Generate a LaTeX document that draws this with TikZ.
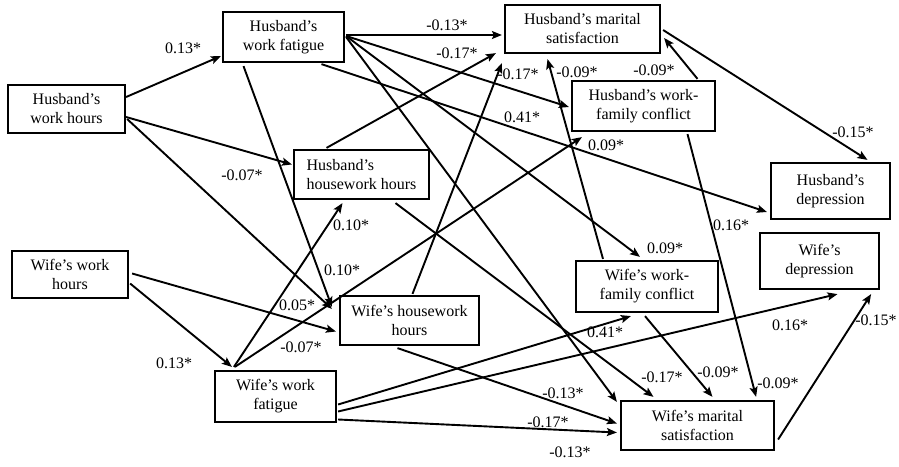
\documentclass[tikz,border=0pt]{standalone}
\usepackage{fontspec}
\setmainfont{Liberation Serif}
\usetikzlibrary{arrows.meta,calc}
\tikzset{
  box/.style={draw, line width=2.2pt, inner sep=0pt, align=center,
    font=\fontsize{16}{19}\selectfont},
  sz/.style 2 args={minimum width=#1pt, minimum height=#2pt},
  arr/.style={line width=1.9pt, -{Stealth[length=10pt,width=8pt,inset=2pt]}},
  lab/.style={inner sep=0pt, font=\fontsize{16}{19}\selectfont}
}
\begin{document}
\begin{tikzpicture}[x=1pt,y=-1pt]
\useasboundingbox (0,0) rectangle (899,466);
% boxes
\node[box, sz={117}{48}] (HWH) at (66.5,109) {Husband’s\\work hours};
\node[box, sz={121}{50}] (HWF) at (283.5,37) {Husband’s\\work fatigue};
\node[box, sz={135}{49}, align=left] (HHH) at (361.5,174.5) {Husband’s\\housework hours};
\node[box, sz={155}{48}] (HMS) at (582.5,29) {Husband’s marital\\satisfaction};
\node[box, sz={143}{50}] (HWFC) at (643.5,106) {Husband’s work-\\family conflict};
\node[box, sz={119}{56}] (HD) at (830.5,191) {Husband’s\\depression};
\node[box, sz={119}{56}] (WD) at (819.5,261) {Wife’s\\depression};
\node[box, sz={142}{51}] (WWFC) at (647,286.5) {Wife’s work-\\family conflict};
\node[box, sz={153}{49}] (WMS) at (697.5,425.5) {Wife’s marital\\satisfaction};
\node[box, sz={139}{49}] (WHH) at (409.5,320.5) {Wife’s housework\\hours};
\node[box, sz={116}{47}] (WWH) at (70,274.5) {Wife’s work\\hours};
\node[box, sz={121}{51}] (WWF) at (275.5,396.5) {Wife’s work\\fatigue};
% connectors
\draw[arr] ($(HWH.east)+(0,-12)$) -- ($(HWF.south west)+(-1,-7)$);
\draw[arr] ($(HWH.east)+(0,8)$) -- ($(HHH.west)+(-1,-10)$);
\draw[arr] ($(HWH.east)+(1,10)$) -- ($(WHH.north west)+(-7,14)$);
\draw[arr] ($(WWH.east)+(1,9)$) -- ($(WWF.north west)+(18,-3)$);
\draw[arr] ($(WWH.east)+(3,-1)$) -- ($(WHH.west)+(-3,11)$);
\draw[arr] ($(HWF.east)+(1,-2)$) -- ($(HMS.west)+(-2,6)$);
\draw[arr] ($(HWF.east)+(1,-1)$) -- ($(HWFC.west)+(-2,1)$);
\draw[arr] ($(HWF.east)+(1,-1)$) -- ($(WWFC.north)+(-7,-3)$);
\draw[arr] ($(HWF.east)+(1,0)$) -- ($(WMS.north west)+(-3,2)$);
\draw[arr] ($(HWF.south)+(38,1)$) -- ($(HD.west)+(-3,21)$);
\draw[arr] ($(HWF.south)+(-40,3)$) -- ($(WHH.north west)+(-7,12)$);
\draw[arr] ($(WWF.north west)+(20,-3)$) -- ($(HHH.south)+(-19,3)$);
\draw[arr] ($(WWF.north west)+(21,-3)$) -- ($(HWFC.south west)+(11,5)$);
\draw[arr] ($(WWF.east)+(1,8)$) -- ($(WWFC.south west)+(56,3)$);
\draw[arr] ($(WWF.east)+(1,15)$) -- ($(WD.south)+(18,4)$);
\draw[arr] ($(WWF.east)+(1,23)$) -- ($(WMS.west)+(-3,7)$);
\draw[arr] ($(HHH.north)+(-35,-1)$) -- ($(HMS.south west)+(-8,-1)$);
\draw[arr] ($(HHH.south)+(34,3)$) -- ($(WMS.north)+(-44,-3)$);
\draw[arr] ($(WHH.north)+(3,-1)$) -- ($(HMS.south west)+(-2,9)$);
\draw[arr] ($(WHH.south)+(-12,2)$) -- ($(WMS.west)+(-3,-2)$);
\draw[arr] ($(HWFC.north)+(54,-1)$) -- ($(HMS.east)+(3,9)$);
\draw[arr] ($(HWFC.south)+(44,2)$) -- ($(WMS.north east)+(-19,-3)$);
\draw[arr] ($(WWFC.north)+(-44,-1)$) -- ($(HMS.south)+(-35,5)$);
\draw[arr] ($(WWFC.south)+(-2,3)$) -- ($(WMS.north)+(15,-3)$);
\draw[arr] ($(HMS.east)+(2,1)$) -- ($(HD.north)+(37,-2)$);
\draw[arr] ($(WMS.east)+(3,14)$) -- ($(WD.south east)+(-9,4)$);
% labels
\node[lab] (l1) at (183,48) {0.13*};
\node[lab] (l2) at (447,25) {-0.13*};
\node[lab] (l3) at (457,53) {-0.17*};
\node[lab] (l4) at (518,74) {-0.17*};
\node[lab] (l5) at (577,72) {-0.09*};
\node[lab] (l6) at (654,70) {-0.09*};
\node[lab] (l7) at (522,117) {0.41*};
\node[lab] (l8) at (606,145) {0.09*};
\node[lab] (l9) at (853,132) {-0.15*};
\node[lab] (l10) at (731,225) {0.16*};
\node[lab] (l11) at (242,175) {-0.07*};
\node[lab] (l12) at (351,225) {0.10*};
\node[lab] (l13) at (342,270) {0.10*};
\node[lab] (l14) at (297,305) {0.05*};
\node[lab] (l15) at (301,347) {-0.07*};
\node[lab] (l16) at (174,363) {0.13*};
\node[lab] (l17) at (605,332) {0.41*};
\node[lab] (l18) at (790,325) {0.16*};
\node[lab] (l19) at (876,320) {-0.15*};
\node[lab] (l20) at (665,248) {0.09*};
\node[lab] (l21) at (662,377) {-0.17*};
\node[lab] (l22) at (718,372) {-0.09*};
\node[lab] (l23) at (778,383) {-0.09*};
\node[lab] (l24) at (563,393) {-0.13*};
\node[lab] (l25) at (548,422) {-0.17*};
\node[lab] (l26) at (570,452) {-0.13*};
\end{tikzpicture}
\end{document}
